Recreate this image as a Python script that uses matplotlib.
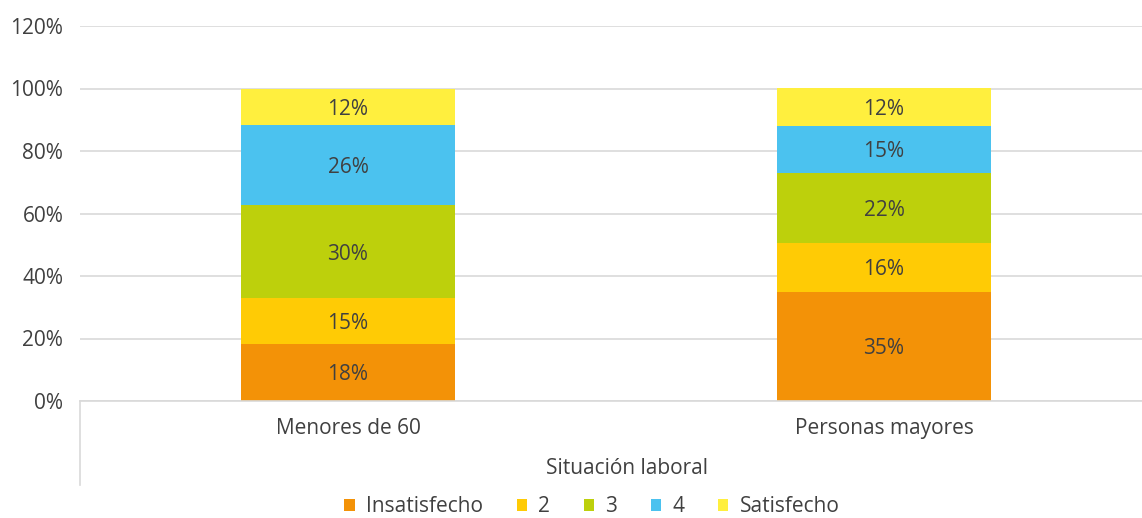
import matplotlib.pyplot as plt
from matplotlib.lines import Line2D
import numpy as np

categories = ["Menores de 60", "Personas mayores"]
series = ["Insatisfecho", "2", "3", "4", "Satisfecho"]
values = {
    "Insatisfecho": [18.3, 34.9],
    "2": [14.7, 15.7],
    "3": [29.6, 22.4],
    "4": [25.6, 15.1],
    "Satisfecho": [11.8, 11.9],
}
colors = ["#F39207", "#FFCB05", "#BDD00C", "#4BC2EF", "#FFEF3E"]

plt.rcParams['font.family'] = ['Open Sans', 'DejaVu Sans']
text_color = "#404040"
fs = 15

fig = plt.figure(figsize=(11.42, 5.18), dpi=100)
ax = fig.add_axes([80 / 1142, 117 / 518, 1072 / 1142, 375 / 518])

x = np.arange(len(categories))
bottom = np.zeros(len(categories))
for name, col in zip(series, colors):
    vals = np.array(values[name])
    ax.bar(x, vals, width=0.4, bottom=bottom, color=col, label=name, zorder=2)
    for xi, b, v in zip(x, bottom, vals):
        ax.text(xi, b + v / 2, f"{v:.0f}%", ha="center", va="center_baseline",
                fontsize=fs, color=text_color, zorder=3)
    bottom += vals

ax.set_xlim(-0.5, 1.5)
ax.set_ylim(0, 120)
ax.set_yticks(range(0, 121, 20))
ax.set_yticklabels([f"{t}%" for t in range(0, 121, 20)])
ax.yaxis.grid(True, color="#D9D9D9", linewidth=1.2, zorder=0)
ax.set_axisbelow(True)
for s in ["top", "right", "left"]:
    ax.spines[s].set_visible(False)
ax.spines["bottom"].set_color("#D9D9D9")
ax.spines["bottom"].set_linewidth(1.2)
ax.tick_params(axis="y", length=0, labelsize=fs, labelcolor=text_color, pad=12)
ax.tick_params(axis="x", length=0, labelsize=fs, labelcolor=text_color, pad=12)
ax.set_xticks(x)
ax.set_xticklabels(categories)

# left border of the category axis block
ax.add_line(Line2D([0, 0], [0, -84 / 375], transform=ax.transAxes,
                   color="#D9D9D9", linewidth=1.2, clip_on=False))

fig.text(627 / 1142, 1 - 468 / 518, "Situación laboral", ha="center", va="center",
         fontsize=fs, color=text_color)

leg = fig.legend(loc="center", bbox_to_anchor=(592 / 1142, 1 - 507 / 518), ncol=5,
                 frameon=False, fontsize=fs, handlelength=0.5, handleheight=0.5,
                 handletextpad=0.55, columnspacing=1.6, borderpad=0.2)
for t in leg.get_texts():
    t.set_color(text_color)

fig.savefig("out.png", dpi=100)
